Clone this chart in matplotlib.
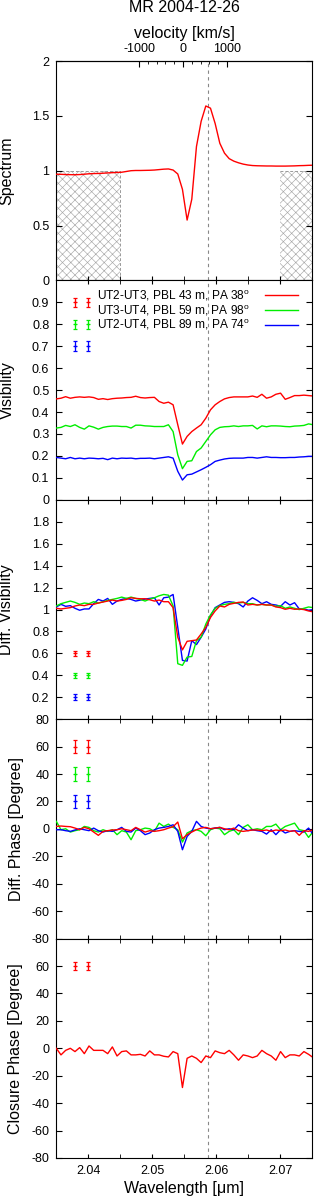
import numpy as np
import matplotlib as mpl
mpl.use("Agg")
import matplotlib.pyplot as plt
from matplotlib.ticker import FixedLocator, MultipleLocator

mpl.rcParams.update({
    "font.family": ["Liberation Sans", "DejaVu Sans"],
    "mathtext.fontset": "custom",
    "mathtext.rm": "Liberation Sans",
    "mathtext.it": "Liberation Sans:italic",
    "axes.unicode_minus": False,
    "font.size": 9,
    "axes.linewidth": 0.8,
    "xtick.direction": "in",
    "ytick.direction": "in",
    "xtick.labelsize": 9,
    "ytick.labelsize": 9,
    "hatch.linewidth": 0.45,
})

# ---------------------------------------------------------------- data
wavelength = [
    2.03500, 2.03573, 2.03646, 2.03719, 2.03792, 2.03865, 2.03938, 2.04011,
    2.04084, 2.04157, 2.04230, 2.04303, 2.04376, 2.04449, 2.04522, 2.04595,
    2.04668, 2.04741, 2.04814, 2.04887, 2.04960, 2.05033, 2.05106, 2.05179,
    2.05252, 2.05325, 2.05398, 2.05471, 2.05544, 2.05617, 2.05690, 2.05763,
    2.05836, 2.05909, 2.05982, 2.06055, 2.06128, 2.06201, 2.06274, 2.06347,
    2.06420, 2.06493, 2.06566, 2.06639, 2.06712, 2.06785, 2.06858, 2.06931,
    2.07004, 2.07077, 2.07150, 2.07223, 2.07296, 2.07369, 2.07442, 2.07515,
]

spectrum = [
    0.968, 0.967, 0.965, 0.964, 0.963, 0.965, 0.968, 0.972, 0.974, 0.975,
    0.977, 0.980, 0.982, 0.984, 0.986, 0.993, 1.000, 1.002, 1.002, 1.003,
    1.004, 1.006, 1.010, 1.014, 1.016, 1.006, 0.970, 0.83, 0.55, 0.74,
    1.22, 1.45, 1.59, 1.57, 1.43, 1.25, 1.16, 1.11, 1.087, 1.072,
    1.06, 1.052, 1.047, 1.045, 1.044, 1.043, 1.043, 1.042, 1.042, 1.042,
    1.043, 1.044, 1.046, 1.047, 1.049, 1.050,
]

vis_ut23 = [
    0.460, 0.463, 0.470, 0.463, 0.467, 0.469, 0.467, 0.469, 0.466, 0.458,
    0.461, 0.457, 0.461, 0.463, 0.464, 0.466, 0.467, 0.472, 0.466, 0.464,
    0.466, 0.467, 0.448, 0.440, 0.445, 0.433, 0.342, 0.254, 0.289, 0.311,
    0.327, 0.342, 0.372, 0.410, 0.433, 0.448, 0.460, 0.466, 0.469, 0.469,
    0.469, 0.469, 0.473, 0.467, 0.481, 0.463, 0.469, 0.481, 0.486, 0.458,
    0.466, 0.475, 0.475, 0.477, 0.475, 0.473,
]
vis_ut34 = [
    0.327, 0.330, 0.339, 0.334, 0.342, 0.330, 0.322, 0.337, 0.331, 0.322,
    0.330, 0.334, 0.336, 0.336, 0.334, 0.334, 0.327, 0.340, 0.340, 0.337,
    0.336, 0.334, 0.334, 0.334, 0.342, 0.311, 0.205, 0.142, 0.175, 0.178,
    0.220, 0.236, 0.266, 0.296, 0.319, 0.330, 0.333, 0.334, 0.337, 0.334,
    0.337, 0.337, 0.339, 0.323, 0.337, 0.333, 0.337, 0.337, 0.336, 0.334,
    0.333, 0.336, 0.337, 0.339, 0.346, 0.342,
]
vis_ut24 = [
    0.193, 0.190, 0.187, 0.193, 0.187, 0.190, 0.187, 0.190, 0.189, 0.187,
    0.189, 0.183, 0.190, 0.187, 0.190, 0.189, 0.190, 0.187, 0.189, 0.189,
    0.190, 0.187, 0.190, 0.193, 0.196, 0.190, 0.130, 0.090, 0.114, 0.117,
    0.127, 0.137, 0.148, 0.160, 0.175, 0.181, 0.186, 0.189, 0.190, 0.190,
    0.190, 0.193, 0.193, 0.190, 0.193, 0.196, 0.193, 0.193, 0.192, 0.192,
    0.193, 0.193, 0.195, 0.196, 0.198, 0.198,
]

dvis_ut23 = [
    1.011, 1.005, 1.011, 1.017, 1.032, 1.041, 1.035, 1.047, 1.047, 1.059,
    1.068, 1.077, 1.086, 1.077, 1.083, 1.092, 1.107, 1.101, 1.098, 1.098,
    1.089, 1.077, 1.086, 1.071, 1.071, 1.017, 0.747, 0.632, 0.710, 0.716,
    0.722, 0.777, 0.837, 0.927, 0.987, 1.032, 1.023, 1.047, 1.056, 1.065,
    1.068, 1.041, 1.047, 1.041, 1.047, 1.041, 1.041, 1.023, 1.017, 1.002,
    1.011, 1.002, 1.005, 0.999, 0.987, 0.978,
]
dvis_ut34 = [
    1.032, 1.053, 1.065, 1.077, 1.065, 1.047, 1.059, 1.053, 1.071, 1.059,
    1.071, 1.083, 1.092, 1.101, 1.113, 1.101, 1.113, 1.101, 1.092, 1.077,
    1.095, 1.107, 1.125, 1.137, 1.131, 1.032, 0.506, 0.491, 0.566, 0.572,
    0.716, 0.747, 0.867, 0.951, 1.011, 1.035, 1.047, 1.053, 1.065, 1.059,
    1.065, 1.053, 1.053, 1.041, 1.047, 1.041, 1.041, 1.029, 1.035, 1.011,
    1.023, 1.011, 0.999, 1.011, 1.023, 1.017,
]
dvis_ut24 = [
    1.023, 1.047, 1.029, 1.035, 1.011, 0.993, 1.005, 1.005, 1.053, 1.092,
    1.077, 1.101, 1.047, 1.077, 1.092, 1.101, 1.092, 1.077, 1.086, 1.095,
    1.101, 1.107, 1.041, 1.107, 1.113, 1.137, 0.837, 0.536, 0.530, 0.716,
    0.680, 0.747, 0.822, 0.942, 1.017, 1.041, 1.065, 1.071, 1.065, 1.053,
    1.023, 1.077, 1.107, 1.083, 1.053, 1.071, 1.047, 1.041, 1.029, 1.071,
    1.041, 1.062, 1.005, 1.005, 0.993, 0.999,
]

dphi_ut23 = [
    1.8, 2.1, 1.8, 1.6, 0.6, -0.6, 1.1, 0.1, -2.3, -4.7,
    -1.8, -1.3, -0.8, -0.6, 0.1, -0.6, -1.3, 1.1, -0.6, -2.3,
    -1.3, -1.8, -1.3, -0.6, 0.6, 1.6, 5.0, -7.2, -4.2, -2.3,
    -0.6, 0.6, 1.1, 0.1, 0.6, 1.1, 0.1, -0.6, 0.6, -1.3,
    -1.8, -1.3, -0.8, -0.8, -1.3, -0.8, -1.8, -0.8, -1.3, -0.8,
    -1.8, -1.3, -4.7, -1.3, -1.8, -0.6,
]
dphi_ut34 = [
    5.5, -0.6, 0.1, -2.3, -1.3, -0.6, 1.8, 1.1, -1.3, -2.3,
    -0.6, -1.8, -0.6, -4.2, -1.3, -2.3, -7.9, -1.3, -0.6, 0.6,
    0.1, -1.8, 4.2, 1.8, 3.5, 1.1, -0.6, -9.6, -3.0, -1.3,
    -0.6, -1.8, -5.0, -0.6, 0.6, 0.1, -4.2, -1.8, -0.6, -4.2,
    1.1, 3.0, -0.6, 0.1, -0.6, 1.8, 1.8, 3.5, -0.6, 1.8,
    3.0, 4.2, -0.6, -1.3, -6.2, -1.8,
]
dphi_ut24 = [
    -0.6, -0.6, -1.3, -1.8, -0.8, 0.1, -0.6, -1.3, 0.6, -1.3,
    -2.3, -1.3, -1.8, -0.6, 1.1, -1.8, -2.3, 0.6, -1.3, -4.2,
    -3.0, -0.6, 0.6, 1.1, 1.8, 3.0, -1.8, -15.2, -5.5, -1.8,
    5.5, 1.8, 0.6, 0.1, 0.6, 1.1, -0.6, 0.1, -0.6, 3.0,
    0.6, -1.3, -0.6, -1.3, -1.8, -3.8, -0.6, -4.2, -0.6, -3.0,
    -1.8, -1.3, -1.8, -2.3, 0.6, -4.2,
]

closure_phase = [
    0.0, -4.8, -1.5, 0.0, -2.4, 0.5, -3.9, 1.7, -1.5, -1.5,
    -1.5, -3.9, 1.0, -5.6, -2.4, -1.9, -4.8, -4.8, -4.4, -5.6,
    -1.9, -4.8, -4.8, -5.8, -6.3, -2.4, -3.9, -28.6, -7.3, -5.6,
    -7.3, -10.4, -5.6, -6.8, -1.9, -3.2, -3.9, -1.5, -4.8, -8.7,
    -4.8, -5.6, -6.8, -5.6, -1.5, -3.9, -5.6, -8.7, -2.4, -6.8,
    -4.8, -4.8, -5.6, -2.4, -4.4, -6.8,
]

# typical error bars shown in the upper left corner
err_x = [2.038, 2.040]
vis_err_y = [0.9, 0.8, 0.7]
vis_err = [0.02, 0.02, 0.023]
dvis_err_y = [0.6, 0.4, 0.2]
dvis_err = [0.025, 0.025, 0.027]
dphi_err_y = [60, 40, 20]
dphi_err = [5.0, 5.0, 5.0]
cphi_err_y = 60
cphi_err = 3.0

baselines = ["UT2-UT3, PBL 43 m, PA 38$^{\\rm o}$",
             "UT3-UT4, PBL 59 m, PA 98$^{\\rm o}$",
             "UT2-UT4, PBL 89 m, PA 74$^{\\rm o}$"]
colors = ["#ff0000", "#00ee00", "#0000ff"]

line_center = 2.05866      # dashed marker
vel_zero = 2.0548          # zero point of the velocity axis
continuum = [(2.035, 2.045), (2.070, 2.075)]
C_KMS = 299792.458

LABEL_FS = 11.5

# ---------------------------------------------------------------- figure
W, H = 314, 1199
fig = plt.figure(figsize=(W / 100, H / 100), dpi=100)
x0, x1 = 56.3, 312.3
top0, ph = 61.0, 219.4
axes = []
for k in range(5):
    t = top0 + k * ph
    ax = fig.add_axes([x0 / W, 1 - (t + ph) / H, (x1 - x0) / W, ph / H])
    axes.append(ax)

for ax in axes:
    ax.set_xlim(2.035, 2.075)
    ax.xaxis.set_major_locator(MultipleLocator(0.01))
    ax.xaxis.set_minor_locator(MultipleLocator(0.005))
    ax.tick_params(axis="x", which="both", top=True, bottom=True,
                   labelbottom=False, length=3.2)
    ax.tick_params(axis="y", which="both", left=True, right=True,
                   length=4, pad=5)
    ax.axvline(line_center, color="#888888", lw=0.8, dashes=(3, 3), zorder=1)

def set_yt(ax, lo, hi, ticks):
    ax.set_ylim(lo, hi)
    ax.set_yticks(ticks, ["%g" % round(t, 3) for t in ticks])

# panel 1 : spectrum
ax = axes[0]
for a, b in continuum:
    ax.fill_between([a, b], 0, 1, facecolor="none", edgecolor="#a8a8a8",
                    hatch="xxxx", linewidth=0, zorder=0)
    ax.plot([a, b, b, a], [1, 1, 0, 0], color="#9a9a9a", lw=0.7,
            dashes=(3, 2), zorder=0)
ax.plot(wavelength, spectrum, color=colors[0], lw=1.0, zorder=3)
set_yt(ax, 0, 2, [0, 0.5, 1, 1.5, 2])
ax.tick_params(axis="x", which="both", top=False)
ax.set_ylabel("Spectrum", fontsize=LABEL_FS)

sec = ax.secondary_xaxis(
    "top",
    functions=(lambda l: (np.asarray(l) / vel_zero - 1) * C_KMS,
               lambda v: vel_zero * (1 + np.asarray(v) / C_KMS)))
sec.set_xticks([-1000, 0, 1000])
sec.xaxis.set_minor_locator(FixedLocator([-800, -600, -400, -200,
                                          200, 400, 600, 800]))
sec.tick_params(axis="x", which="major", direction="in", length=4, pad=4)
sec.tick_params(axis="x", which="minor", direction="in", length=2.2)
sec.set_xlabel("velocity [km/s]", fontsize=LABEL_FS, labelpad=4)
fig.text((x0 + x1) / 2 / W, 1 - 7 / H, "MR 2004-12-26", fontsize=LABEL_FS,
         ha="center", va="center")

# panel 2 : visibility
ax = axes[1]
for vals, col, lab in zip([vis_ut23, vis_ut34, vis_ut24], colors, baselines):
    ax.plot(wavelength, vals, color=col, lw=1.0, label=lab, zorder=3)
for y, e, col in zip(vis_err_y, vis_err, colors):
    ax.errorbar(err_x, [y, y], yerr=e, fmt="+", color=col, ms=3,
                capsize=1.6, elinewidth=0.9, mew=0.9)
set_yt(ax, 0, 1, [0, 0.1, 0.2, 0.3, 0.4, 0.5, 0.6, 0.7, 0.8, 0.9])
ax.set_ylabel("Visibility", fontsize=LABEL_FS)
ax.legend(loc="upper right", bbox_to_anchor=(0.944, 0.965), frameon=False,
          markerfirst=False, fontsize=8.6, handlelength=2.8,
          handletextpad=1.2, labelspacing=0.0, borderaxespad=0, borderpad=0)

# panel 3 : differential visibility
ax = axes[2]
for vals, col in zip([dvis_ut23, dvis_ut34, dvis_ut24][::-1], colors[::-1]):
    ax.plot(wavelength, vals, color=col, lw=1.0, zorder=3)
for y, e, col in zip(dvis_err_y, dvis_err, colors):
    ax.errorbar(err_x, [y, y], yerr=e, fmt="+", color=col, ms=3,
                capsize=1.6, elinewidth=0.9, mew=0.9)
set_yt(ax, 0, 2, [0.2, 0.4, 0.6, 0.8, 1.0, 1.2, 1.4, 1.6, 1.8])
ax.set_ylabel("Diff. Visibility", fontsize=LABEL_FS)

# panel 4 : differential phase
ax = axes[3]
for vals, col in zip([dphi_ut34, dphi_ut24, dphi_ut23],
                     [colors[1], colors[2], colors[0]]):
    ax.plot(wavelength, vals, color=col, lw=1.0, zorder=3)
for y, e, col in zip(dphi_err_y, dphi_err, colors):
    ax.errorbar(err_x, [y, y], yerr=e, fmt="+", color=col, ms=3,
                capsize=1.6, elinewidth=0.9, mew=0.9)
set_yt(ax, -80, 80, [-80, -60, -40, -20, 0, 20, 40, 60, 80])
ax.set_ylabel("Diff. Phase [Degree]", fontsize=LABEL_FS)

# panel 5 : closure phase
ax = axes[4]
ax.plot(wavelength, closure_phase, color=colors[0], lw=1.0, zorder=3)
ax.errorbar(err_x, [cphi_err_y] * 2, yerr=cphi_err, fmt="+", color=colors[0],
            ms=3, capsize=1.6, elinewidth=0.9, mew=0.9)
set_yt(ax, -80, 80, [-80, -60, -40, -20, 0, 20, 40, 60])
ax.set_ylabel("Closure Phase [Degree]", fontsize=LABEL_FS)
ax.tick_params(axis="x", labelbottom=True, pad=5)
ax.set_xticks([2.04, 2.05, 2.06, 2.07], ["2.04", "2.05", "2.06", "2.07"])
ax.set_xlabel("Wavelength [\u03bcm]", fontsize=LABEL_FS, labelpad=3)

# y label positions (right edge of rotated label, in pixels)
for ax, edge in zip(axes, [14, 15, 14, 24, 23]):
    ax.yaxis.set_label_coords((edge - x0) / (x1 - x0), 0.5)

fig.savefig("out.png", dpi=100)
